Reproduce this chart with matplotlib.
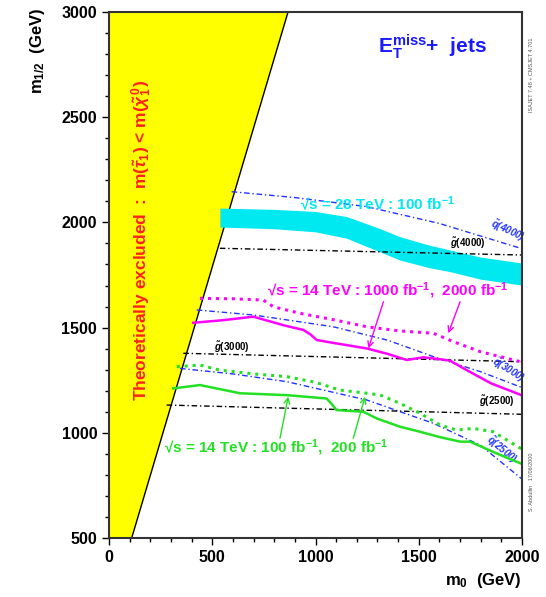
"""mSUGRA reach plot: E_T^miss + jets, m0 vs m1/2."""
import matplotlib
matplotlib.use('Agg')
import matplotlib.pyplot as plt
from matplotlib.ticker import MultipleLocator

plt.rcParams['font.family'] = ['Liberation Sans', 'DejaVu Sans']
plt.rcParams['font.weight'] = 'bold'
plt.rcParams['mathtext.fontset'] = 'custom'
plt.rcParams['mathtext.rm'] = 'Liberation Sans:bold'
plt.rcParams['mathtext.bf'] = 'Liberation Sans:bold'
plt.rcParams['mathtext.it'] = 'Liberation Sans:bold:italic'

# theoretically excluded wedge (m0, m1/2)
excl_m0 = [0, 110, 867, 0]
excl_m12 = [500, 500, 3000, 3000]

# sqrt(s)=28 TeV, 100 fb-1 band
band_m0 = [537, 800, 1000, 1150, 1300, 1409, 1550, 1651, 1800, 2000]
band_hi = [2068, 2062, 2052, 2028, 1975, 1932, 1892, 1869, 1835, 1807]
band_lo = [1978, 1970, 1955, 1925, 1865, 1821, 1785, 1766, 1730, 1702]

# sqrt(s)=14 TeV, 1000 fb-1 (solid) and 2000 fb-1 (dotted)
mag1_m0 = [408, 550, 699, 850, 941, 975, 1006, 1100, 1248, 1350, 1442, 1522, 1600, 1651, 1732, 1850, 2000]
mag1_m12 = [1523, 1535, 1552, 1510, 1489, 1468, 1441, 1425, 1401, 1375, 1346, 1359, 1350, 1343, 1298, 1235, 1178]
mag2_m0 = [441, 600, 747, 796, 925, 1100, 1248, 1400, 1571, 1668, 1800, 2000]
mag2_m12 = [1639, 1637, 1631, 1599, 1568, 1535, 1504, 1485, 1473, 1433, 1385, 1336]

# sqrt(s)=14 TeV, 100 fb-1 (solid) and 200 fb-1 (dotted)
grn1_m0 = [311, 441, 634, 861, 1054, 1080, 1102, 1232, 1297, 1409, 1506, 1600, 1700, 1748, 1870, 2000]
grn1_m12 = [1211, 1227, 1188, 1179, 1163, 1135, 1108, 1100, 1068, 1029, 1005, 980, 958, 958, 905, 852]
grn2_m0 = [328, 441, 537, 700, 861, 1000, 1119, 1248, 1312, 1409, 1506, 1603, 1684, 1764, 1861, 2000]
grn2_m12 = [1314, 1322, 1298, 1280, 1267, 1240, 1203, 1188, 1180, 1140, 1093, 1037, 1013, 1021, 1005, 922]

# squark / gluino iso-mass contours
q4000_m0 = [594, 900, 1248, 1600, 2000]
q4000_m12 = [2146, 2118, 2075, 1995, 1875]
g4000_m0 = [537, 2000]
g4000_m12 = [1877, 1845]
q3000_m0 = [425, 700, 1086, 1350, 1571, 1800, 2000]
q3000_m12 = [1584, 1560, 1504, 1440, 1362, 1290, 1215]
g3000_m0 = [360, 2000]
g3000_m12 = [1378, 1338]
q2500_m0 = [344, 600, 861, 1248, 1571, 1800, 2000]
q2500_m12 = [1306, 1280, 1243, 1156, 1045, 940, 780]
g2500_m0 = [279, 2000]
g2500_m12 = [1132, 1088]

fig = plt.figure(figsize=(5.46, 5.97), dpi=100)
ax = fig.add_axes([0.1996, 0.0988, 0.7565, 0.8811])
ax.set_xlim(0, 2000)
ax.set_ylim(500, 3000)

ax.fill(excl_m0, excl_m12, facecolor='#ffff00', edgecolor='none', zorder=1)
ax.plot(excl_m0[1:3], excl_m12[1:3], color='black', lw=1, zorder=2)

ax.fill_between(band_m0, band_lo, band_hi, color='#00e8f0', lw=0, zorder=2)

dashdot = (0, (4, 2, 1, 2))
blue = '#2233ff'
ax.plot(q4000_m0, q4000_m12, color=blue, lw=1, ls=dashdot, zorder=3)
ax.plot(q3000_m0, q3000_m12, color=blue, lw=1, ls=dashdot, zorder=3)
ax.plot(q2500_m0, q2500_m12, color=blue, lw=1, ls=dashdot, zorder=3)
ax.plot(g4000_m0, g4000_m12, color='black', lw=1, ls=dashdot, zorder=3)
ax.plot(g3000_m0, g3000_m12, color='black', lw=1, ls=dashdot, zorder=3)
ax.plot(g2500_m0, g2500_m12, color='black', lw=1, ls=dashdot, zorder=3)

magenta = '#ff00ff'
green = '#22e022'
ax.plot(mag1_m0, mag1_m12, color=magenta, lw=1.8, zorder=4)
ax.plot(mag2_m0, mag2_m12, color=magenta, lw=2.2, ls=(0, (1, 1.6)), zorder=4)
ax.plot(grn1_m0, grn1_m12, color=green, lw=1.8, zorder=4)
ax.plot(grn2_m0, grn2_m12, color=green, lw=2.2, ls=(0, (1, 1.6)), zorder=4)

# labels
ax.text(1298, 2087, '\u221as = 28 TeV : 100 fb$^{-1}$', color='#00e8f0',
        fontsize=11, ha='center', va='center', zorder=5)
ax.text(1351, 1674, '\u221as = 14 TeV : 1000 fb$^{-1}$,  2000 fb$^{-1}$', color=magenta,
        fontsize=11, ha='center', va='center', zorder=5)
ax.text(810, 928, '\u221as = 14 TeV : 100 fb$^{-1}$,  200 fb$^{-1}$', color=green,
        fontsize=11, ha='center', va='center', zorder=5)

ax.text(1740, 1900, r'$\tilde{g}$(4000)', fontsize=7, ha='center', va='center')
ax.text(594, 1405, r'$\tilde{g}$(3000)', fontsize=7, ha='center', va='center')
ax.text(1880, 1150, r'$\tilde{g}$(2500)', fontsize=7, ha='center', va='center')
ax.text(1930, 1960, r'$\tilde{q}$(4000)', fontsize=7, color=blue, style='italic',
        ha='center', va='center', rotation=-25)
ax.text(1935, 1300, r'$\tilde{q}$(3000)', fontsize=7, color=blue, style='italic',
        ha='center', va='center', rotation=-32)
ax.text(1900, 920, r'$\tilde{q}$(2500)', fontsize=7, color=blue, style='italic',
        ha='center', va='center', rotation=-40)

arrow_m = dict(arrowstyle='->', color=magenta, lw=1, shrinkA=0, shrinkB=0)
ax.annotate('', xy=(1256, 1401), xytext=(1329, 1623), arrowprops=arrow_m)
ax.annotate('', xy=(1643, 1473), xytext=(1700, 1623), arrowprops=arrow_m)
arrow_g = dict(arrowstyle='->', color=green, lw=1, shrinkA=0, shrinkB=0)
ax.annotate('', xy=(868, 1172), xytext=(828, 974), arrowprops=arrow_g)
ax.annotate('', xy=(1240, 1172), xytext=(1183, 974), arrowprops=arrow_g)

ax.text(160, 1916,
        r'Theoretically excluded  :  m($\tilde{\tau}_1$) < m($\tilde{\chi}^{\,0}_1$)',
        color='#ff2020', fontsize=12.5, rotation=90, ha='center', va='center', zorder=5)

ax.text(1303, 2834, r'E$_\mathrm{T}^\mathrm{miss}$+  jets', color='#1a1aff',
        fontsize=15, ha='left', va='center')

# axes cosmetics
ax.xaxis.set_major_locator(MultipleLocator(500))
ax.xaxis.set_minor_locator(MultipleLocator(100))
ax.yaxis.set_major_locator(MultipleLocator(500))
ax.yaxis.set_minor_locator(MultipleLocator(100))
ax.tick_params(which='both', direction='out', labelsize=11.5, width=1)
ax.tick_params(which='major', length=5)
ax.tick_params(which='minor', length=3)
for s in ax.spines.values():
    s.set_linewidth(1.5)
    s.set_color('#333333')
    s.set_zorder(6)

fig.text(0.0678, 0.915, r'm$_{1/2}$  (GeV)', rotation=90, fontsize=12,
         ha='center', va='center')
fig.text(0.956, 0.028, r'm$_0$  (GeV)', fontsize=12, ha='right', va='center')

fig.text(0.973, 0.874, 'ISAJET 7.48 + CMSJET 4.701', fontsize=4, color='#555555',
         rotation=90, ha='center', va='center', fontweight='normal')
fig.text(0.973, 0.193, 'S. Abdullin   17/06/2000', fontsize=4, color='#555555',
         rotation=90, ha='center', va='center', fontweight='normal')

plt.savefig('out.png', dpi=100, facecolor='white')
